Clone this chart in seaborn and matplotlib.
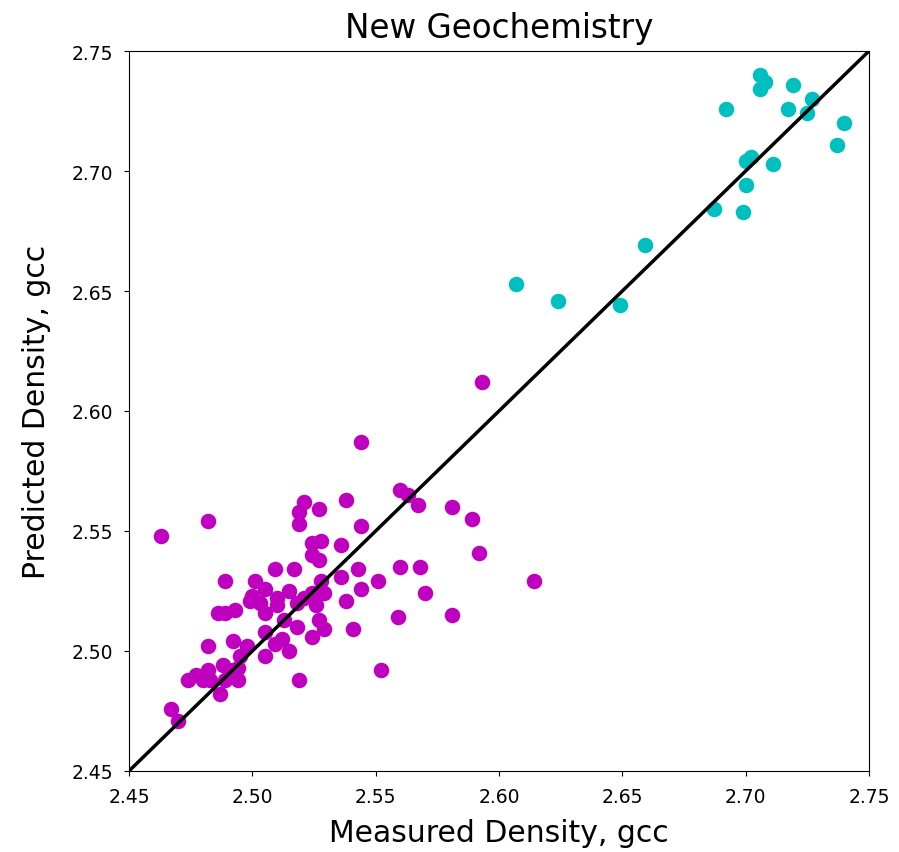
import numpy as np
import pandas as pd
import matplotlib
matplotlib.use("Agg")
import matplotlib.pyplot as plt
import seaborn as sns

# measured vs predicted density
old_measured = [2.463, 2.482, 2.489, 2.501, 2.509, 2.517, 2.500, 2.505, 2.486, 2.489,
                2.493, 2.499, 2.503, 2.505, 2.510, 2.510, 2.515, 2.521, 2.518, 2.524,
                2.529, 2.528, 2.526, 2.538, 2.527, 2.529, 2.524, 2.518, 2.512, 2.515,
                2.541, 2.559, 2.552, 2.519, 2.505, 2.509, 2.505, 2.482, 2.492, 2.498,
                2.495, 2.494, 2.488, 2.482, 2.477, 2.474, 2.480, 2.483, 2.489, 2.494,
                2.487, 2.467, 2.470, 2.492, 2.491, 2.521, 2.519, 2.519, 2.527, 2.538,
                2.544, 2.524, 2.528, 2.536, 2.524, 2.527, 2.536, 2.543, 2.551, 2.544,
                2.544, 2.593, 2.560, 2.563, 2.567, 2.581, 2.589, 2.592, 2.560, 2.568,
                2.614, 2.570, 2.581, 2.513]
old_predicted = [2.548, 2.554, 2.529, 2.529, 2.534, 2.534, 2.523, 2.526, 2.516, 2.516,
                 2.517, 2.521, 2.520, 2.516, 2.519, 2.522, 2.525, 2.522, 2.520, 2.524,
                 2.524, 2.529, 2.519, 2.521, 2.513, 2.509, 2.506, 2.510, 2.505, 2.500,
                 2.509, 2.514, 2.492, 2.488, 2.508, 2.503, 2.498, 2.502, 2.504, 2.502,
                 2.498, 2.493, 2.494, 2.492, 2.490, 2.488, 2.488, 2.488, 2.488, 2.488,
                 2.482, 2.476, 2.471, 2.492, 2.490, 2.562, 2.558, 2.553, 2.559, 2.563,
                 2.552, 2.545, 2.546, 2.544, 2.540, 2.538, 2.531, 2.534, 2.529, 2.526,
                 2.587, 2.612, 2.567, 2.565, 2.561, 2.560, 2.555, 2.541, 2.535, 2.535,
                 2.529, 2.524, 2.515, 2.513]

new_measured = [2.607, 2.624, 2.649, 2.659, 2.687, 2.699, 2.700, 2.700, 2.702, 2.711,
                2.692, 2.706, 2.708, 2.706, 2.719, 2.717, 2.727, 2.725, 2.740, 2.737]
new_predicted = [2.653, 2.646, 2.644, 2.669, 2.684, 2.683, 2.694, 2.704, 2.706, 2.703,
                 2.726, 2.740, 2.737, 2.734, 2.736, 2.726, 2.730, 2.724, 2.720, 2.711]

one_to_one = [2.45, 2.75]
ticks = [2.45, 2.50, 2.55, 2.60, 2.65, 2.70, 2.75]

fig = plt.figure(figsize=(8.99, 8.53), dpi=100)
ax = fig.add_axes([0.1435, 0.095, 0.8231, 0.844])

sns.scatterplot(x=old_measured, y=old_predicted, color="m", s=125, linewidth=0, ax=ax)
sns.scatterplot(x=new_measured, y=new_predicted, color="c", s=125, linewidth=0, ax=ax)
sns.lineplot(x=one_to_one, y=one_to_one, color="k", linewidth=2.5, ax=ax)

ax.set_xlim(2.45, 2.75)
ax.set_ylim(2.45, 2.75)
ax.set_xticks(ticks)
ax.set_yticks(ticks)
ax.set_xticklabels([f"{t:.2f}" for t in ticks])
ax.set_yticklabels([f"{t:.2f}" for t in ticks])
ax.tick_params(labelsize=13.5, pad=8)
ax.set_xlabel("Measured Density, gcc", fontsize=21.5, labelpad=9)
ax.set_ylabel("Predicted Density, gcc", fontsize=21.5, labelpad=15)
ax.set_title("New Geochemistry", fontsize=23.5, pad=10)

fig.savefig("out.png", dpi=100)
